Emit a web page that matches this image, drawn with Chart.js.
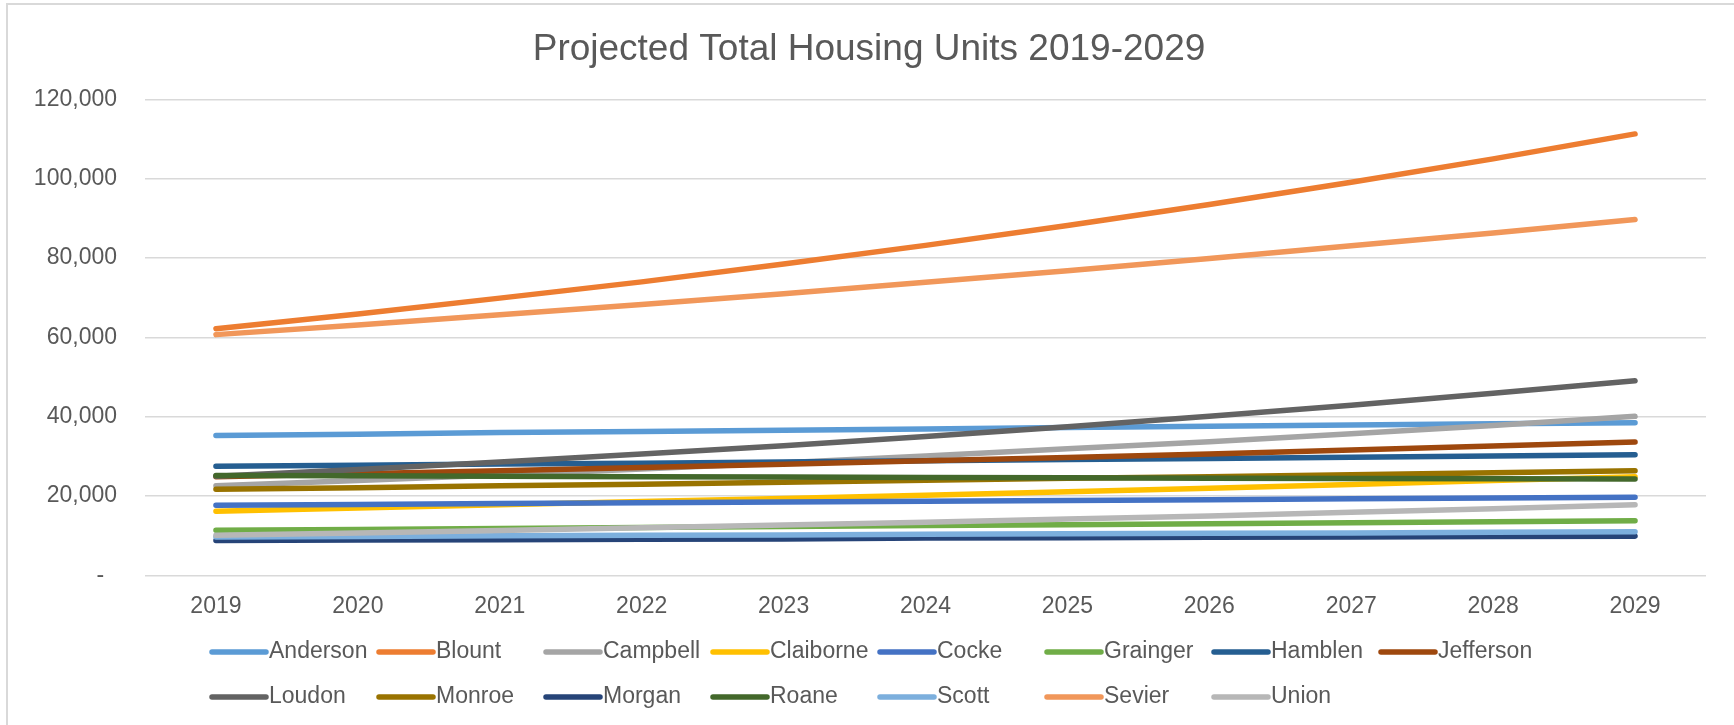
<!DOCTYPE html>
<html>
<head>
<meta charset="utf-8">
<title>Projected Total Housing Units 2019-2029</title>
<script src="https://cdn.jsdelivr.net/npm/chart.js@4.4.1/dist/chart.umd.min.js"></script>
<style>
  html, body { margin: 0; padding: 0; background: #fff; overflow: hidden; }
  #frame { position: absolute; left: 6px; top: 3px; width: 1900px; height: 900px; border: 2px solid #d9d9d9; }
  #chart { position: absolute; left: 0; top: 0; }
</style>
</head>
<body>
<div id="frame"></div>
<canvas id="chart" width="1734" height="725"></canvas>
<script>
// years on the x axis
const years = ["2019", "2020", "2021", "2022", "2023", "2024", "2025", "2026", "2027", "2028", "2029"];

// housing units by county
const anderson  = [35300, 35600, 36000, 36300, 36600, 36900, 37300, 37600, 37900, 38200, 38500];
const blount    = [62200, 65900, 69900, 74000, 78500, 83200, 88200, 93500, 99100, 105000, 111300];
const campbell  = [22600, 23900, 25300, 26800, 28400, 30100, 31900, 33700, 35700, 37800, 40100];
const claiborne = [16200, 17000, 17800, 18600, 19400, 20200, 21100, 22000, 22900, 23900, 24900];
const cocke     = [17700, 17900, 18100, 18300, 18500, 18700, 18900, 19100, 19300, 19500, 19700];
const grainger  = [11400, 11600, 11800, 12100, 12300, 12600, 12800, 13000, 13300, 13500, 13800];
const hamblen   = [27500, 27800, 28100, 28300, 28600, 28900, 29200, 29500, 29800, 30100, 30400];
const jefferson = [24900, 25600, 26400, 27200, 28000, 28900, 29700, 30600, 31600, 32600, 33600];
const loudon    = [25000, 26700, 28600, 30600, 32700, 35000, 37500, 40100, 42900, 45900, 49100];
const monroe    = [21700, 22100, 22600, 23000, 23500, 24000, 24500, 24900, 25400, 25900, 26400];
const morgan    = [8800, 8900, 9000, 9100, 9200, 9400, 9500, 9600, 9700, 9800, 9900];
const roane     = [25200, 25100, 25000, 24900, 24800, 24700, 24600, 24500, 24400, 24350, 24300];
const scott     = [9700, 9800, 10000, 10100, 10200, 10400, 10500, 10600, 10700, 10900, 11000];
const sevier    = [60700, 63100, 65700, 68300, 71000, 73900, 76800, 79900, 83100, 86300, 89700];
const union     = [10100, 10700, 11300, 12000, 12700, 13400, 14200, 15000, 15900, 16800, 17800];

const counties = ["Anderson", "Blount", "Campbell", "Claiborne", "Cocke", "Grainger", "Hamblen", "Jefferson",
                  "Loudon", "Monroe", "Morgan", "Roane", "Scott", "Sevier", "Union"];
const series = [anderson, blount, campbell, claiborne, cocke, grainger, hamblen, jefferson,
                loudon, monroe, morgan, roane, scott, sevier, union];
const colors = ["#5B9BD5", "#ED7D31", "#A5A5A5", "#FFC000", "#4472C4", "#70AD47", "#255E91", "#9E480E",
                "#636363", "#997300", "#264478", "#43682B", "#7CAFDD", "#F1975A", "#B7B7B7"];

const FONT = "'Liberation Sans', Arial, sans-serif";
const TEXT = "#595959";

// excel style legend: fixed width columns, 8 per row
const gridLegend = {
  id: "gridLegend",
  afterDraw(chart) {
    const ctx = chart.ctx;
    const perRow = 8, colW = 167, x0 = 210, rowY = [652, 697];
    ctx.save();
    ctx.font = "23px " + FONT;
    ctx.textBaseline = "middle";
    ctx.textAlign = "left";
    chart.data.datasets.forEach((ds, i) => {
      const x = x0 + (i % perRow) * colW;
      const y = rowY[Math.floor(i / perRow)];
      ctx.strokeStyle = ds.borderColor;
      ctx.lineWidth = 5.5;
      ctx.lineCap = "round";
      ctx.beginPath();
      ctx.moveTo(x + 2, y);
      ctx.lineTo(x + 56, y);
      ctx.stroke();
      ctx.fillStyle = TEXT;
      ctx.fillText(ds.label, x + 59, y);
    });
    ctx.restore();
  }
};

const datasets = counties.map((name, i) => ({
  label: name,
  data: series[i],
  borderColor: colors[i],
  backgroundColor: colors[i],
  borderWidth: 5.5,
  borderCapStyle: "round",
  borderJoinStyle: "round",
  pointRadius: 0,
  tension: 0,
  order: counties.length - i   // later series on top, like Excel
}));

new Chart(document.getElementById("chart").getContext("2d"), {
  type: "line",
  data: { labels: years, datasets: datasets },
  plugins: [gridLegend],
  options: {
    responsive: false,
    animation: false,
    layout: { padding: { top: 6, left: 32, right: 28, bottom: 88 } },
    plugins: {
      legend: { display: false },
      tooltip: { enabled: false },
      title: {
        display: true,
        text: "Projected Total Housing Units 2019-2029",
        color: TEXT,
        font: { family: FONT, size: 37, weight: "normal" },
        padding: { top: 22, bottom: 27 }
      }
    },
    scales: {
      x: {
        offset: true,
        grid: { display: false, drawTicks: false },
        border: { display: false },
        ticks: { color: TEXT, font: { family: FONT, size: 23 }, padding: 17, maxRotation: 0 }
      },
      y: {
        min: 0,
        max: 120000,
        grid: { color: "#D9D9D9", lineWidth: 1.5, drawTicks: false },
        border: { display: false },
        afterFit: scale => { scale.width = 113; },
        ticks: {
          stepSize: 20000,
          color: TEXT,
          font: { family: FONT, size: 23 },
          padding: 28,
          callback: v => v === 0 ? "-  " : v.toLocaleString("en-US")
        }
      }
    }
  }
});
</script>
</body>
</html>
